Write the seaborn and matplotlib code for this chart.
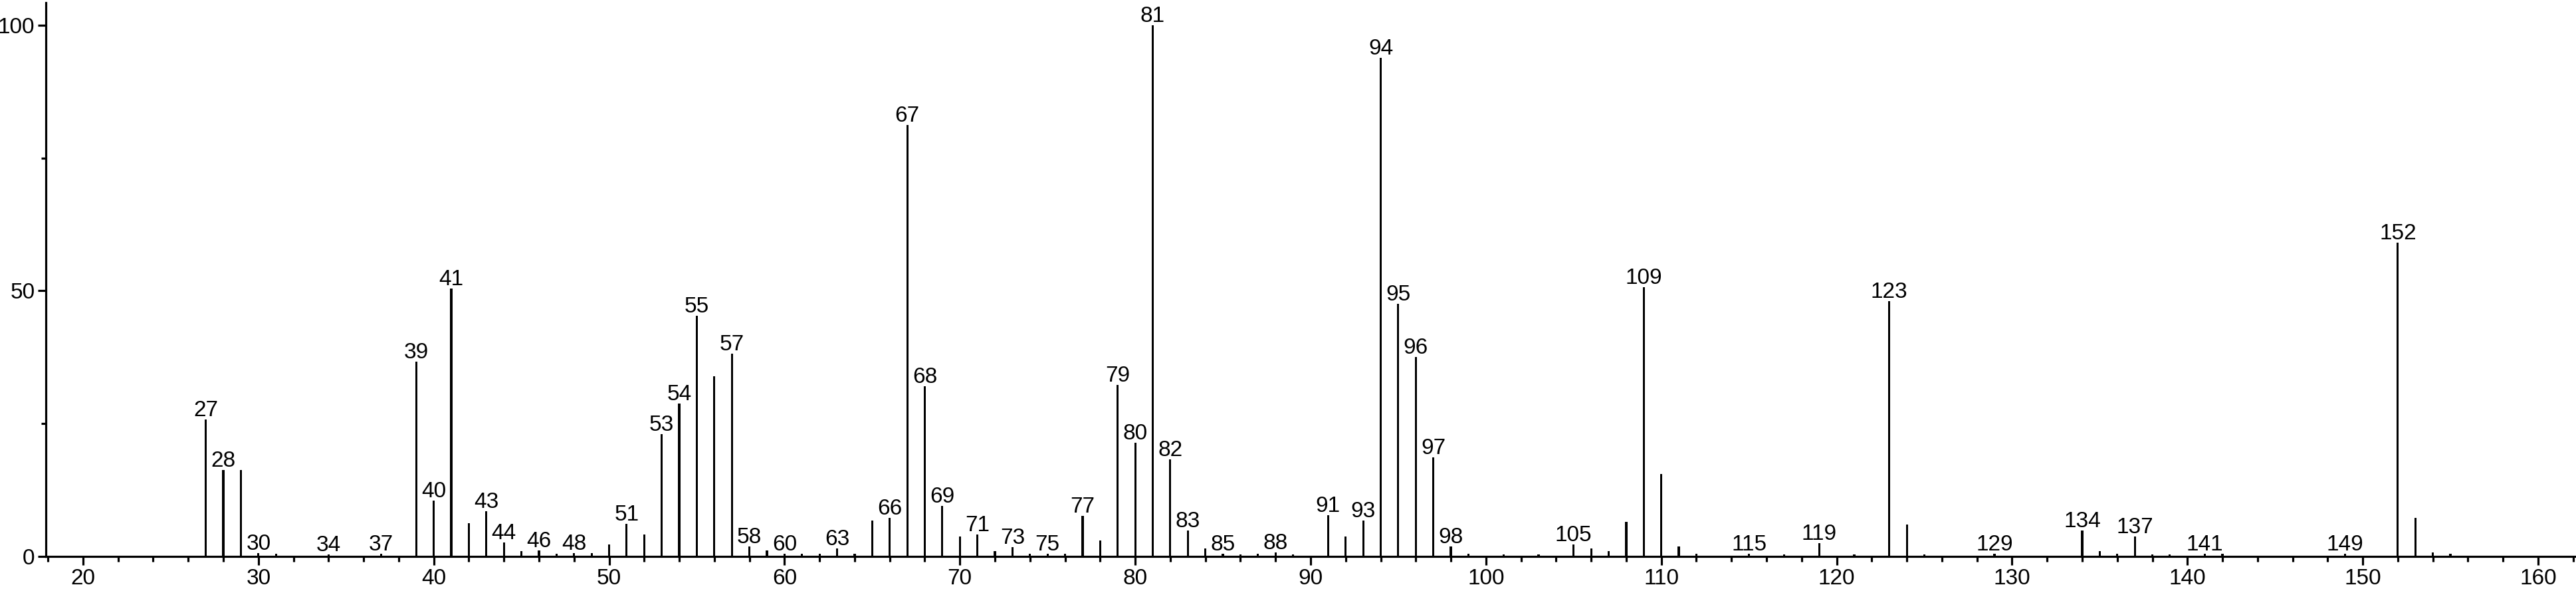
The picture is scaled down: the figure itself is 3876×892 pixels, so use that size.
import matplotlib
matplotlib.use("Agg")
import matplotlib.pyplot as plt
from matplotlib.ticker import MultipleLocator, FixedLocator
import seaborn as sns
import pandas as pd

# m/z values and relative intensities
mz = [27, 28, 29, 30, 31, 34, 37, 39, 40, 41, 42, 43, 44, 45, 46, 47, 48, 49, 50,
      51, 52, 53, 54, 55, 56, 57, 58, 59, 60, 61, 62, 63, 64, 65, 66, 67, 68, 69,
      70, 71, 72, 73, 74, 75, 76, 77, 78, 79, 80, 81, 82, 83, 84, 85, 86, 87, 88,
      89, 91, 92, 93, 94, 95, 96, 97, 98, 99, 101, 103, 105, 106, 107, 108, 109,
      110, 111, 112, 115, 117, 119, 121, 123, 124, 125, 129, 134, 135, 136, 137,
      138, 139, 141, 142, 149, 152, 153, 154, 155]
intensity = [25.8, 16.3, 16.3, 0.7, 0.6, 0.4, 0.5, 36.7, 10.5, 50.4, 6.3, 8.6, 2.7,
             1.1, 1.2, 0.6, 0.7, 0.7, 2.3, 6.2, 4.2, 23.0, 28.8, 45.3, 33.9, 38.2,
             1.9, 1.2, 0.6, 0.6, 0.5, 1.5, 0.6, 6.8, 7.3, 81.2, 32.0, 9.6, 3.8, 4.2,
             1.1, 1.8, 0.5, 0.6, 0.5, 7.7, 3.0, 32.3, 21.4, 100.0, 18.3, 4.9, 1.6,
             0.6, 0.4, 0.5, 0.8, 0.4, 7.8, 3.8, 6.8, 93.8, 47.6, 37.5, 18.7, 1.9,
             0.6, 0.4, 0.4, 2.3, 1.5, 1.1, 6.6, 50.7, 15.6, 1.9, 0.5, 0.5, 0.4, 2.6,
             0.4, 48.0, 6.1, 0.4, 0.5, 4.9, 1.0, 0.5, 3.8, 0.4, 0.4, 0.6, 0.5, 0.5,
             59.0, 7.3, 0.8, 0.5]
labeled_mz = [27, 28, 30, 34, 37, 39, 40, 41, 43, 44, 46, 48, 51, 53, 54, 55, 57,
              58, 60, 63, 66, 67, 68, 69, 71, 73, 75, 77, 79, 80, 81, 82, 83, 85,
              88, 91, 93, 94, 95, 96, 97, 98, 105, 109, 115, 119, 123, 129, 134,
              137, 141, 149, 152]
y_ticks = [0, 50, 100]
y_minor_ticks = [25, 75]

df = pd.DataFrame({"mz": mz, "intensity": intensity})

sns.set_style("ticks")
plt.rcParams["font.family"] = ["Liberation Sans", "DejaVu Sans"]

fig = plt.figure(figsize=(38.76, 8.92), dpi=100)
ax = fig.add_axes([69 / 3876, 54.7 / 892, 1 - 69 / 3876, 833.3 / 892])

sns.barplot(data=df, x="mz", y="intensity", native_scale=True, width=0.12,
            color="black", saturation=1, errorbar=None, linewidth=0, ax=ax)

lookup = dict(zip(mz, intensity))
for m in labeled_mz:
    ax.annotate(str(m), xy=(m, lookup[m]), xytext=(0, 3.6), textcoords="offset points",
                ha="center", va="baseline", fontsize=24, color="black",
                annotation_clip=False)

ax.set_xlim(17.88, 162.16)
ax.set_ylim(0, 104.2)
ax.xaxis.set_major_locator(MultipleLocator(10))
ax.xaxis.set_minor_locator(MultipleLocator(2))
ax.yaxis.set_major_locator(FixedLocator(y_ticks))
ax.yaxis.set_minor_locator(FixedLocator(y_minor_ticks))
ax.set_yticklabels([str(v) for v in y_ticks])

for side in ["top", "right"]:
    ax.spines[side].set_visible(False)
for side in ["left", "bottom"]:
    ax.spines[side].set_linewidth(2.3)
    ax.spines[side].set_color("black")

ax.tick_params(axis="x", which="major", length=9.5, width=2.3, labelsize=24, pad=3,
               direction="out", colors="black")
ax.tick_params(axis="x", which="minor", length=5.5, width=2.3, direction="out",
               colors="black")
ax.tick_params(axis="y", which="major", length=9, width=2.3, labelsize=24, pad=3,
               direction="out", colors="black")
ax.tick_params(axis="y", which="minor", length=5, width=2.3, direction="out",
               colors="black")
ax.set_xlabel("")
ax.set_ylabel("")
ax.patch.set_alpha(0)

fig.savefig("out.png", dpi=100, facecolor="white")
